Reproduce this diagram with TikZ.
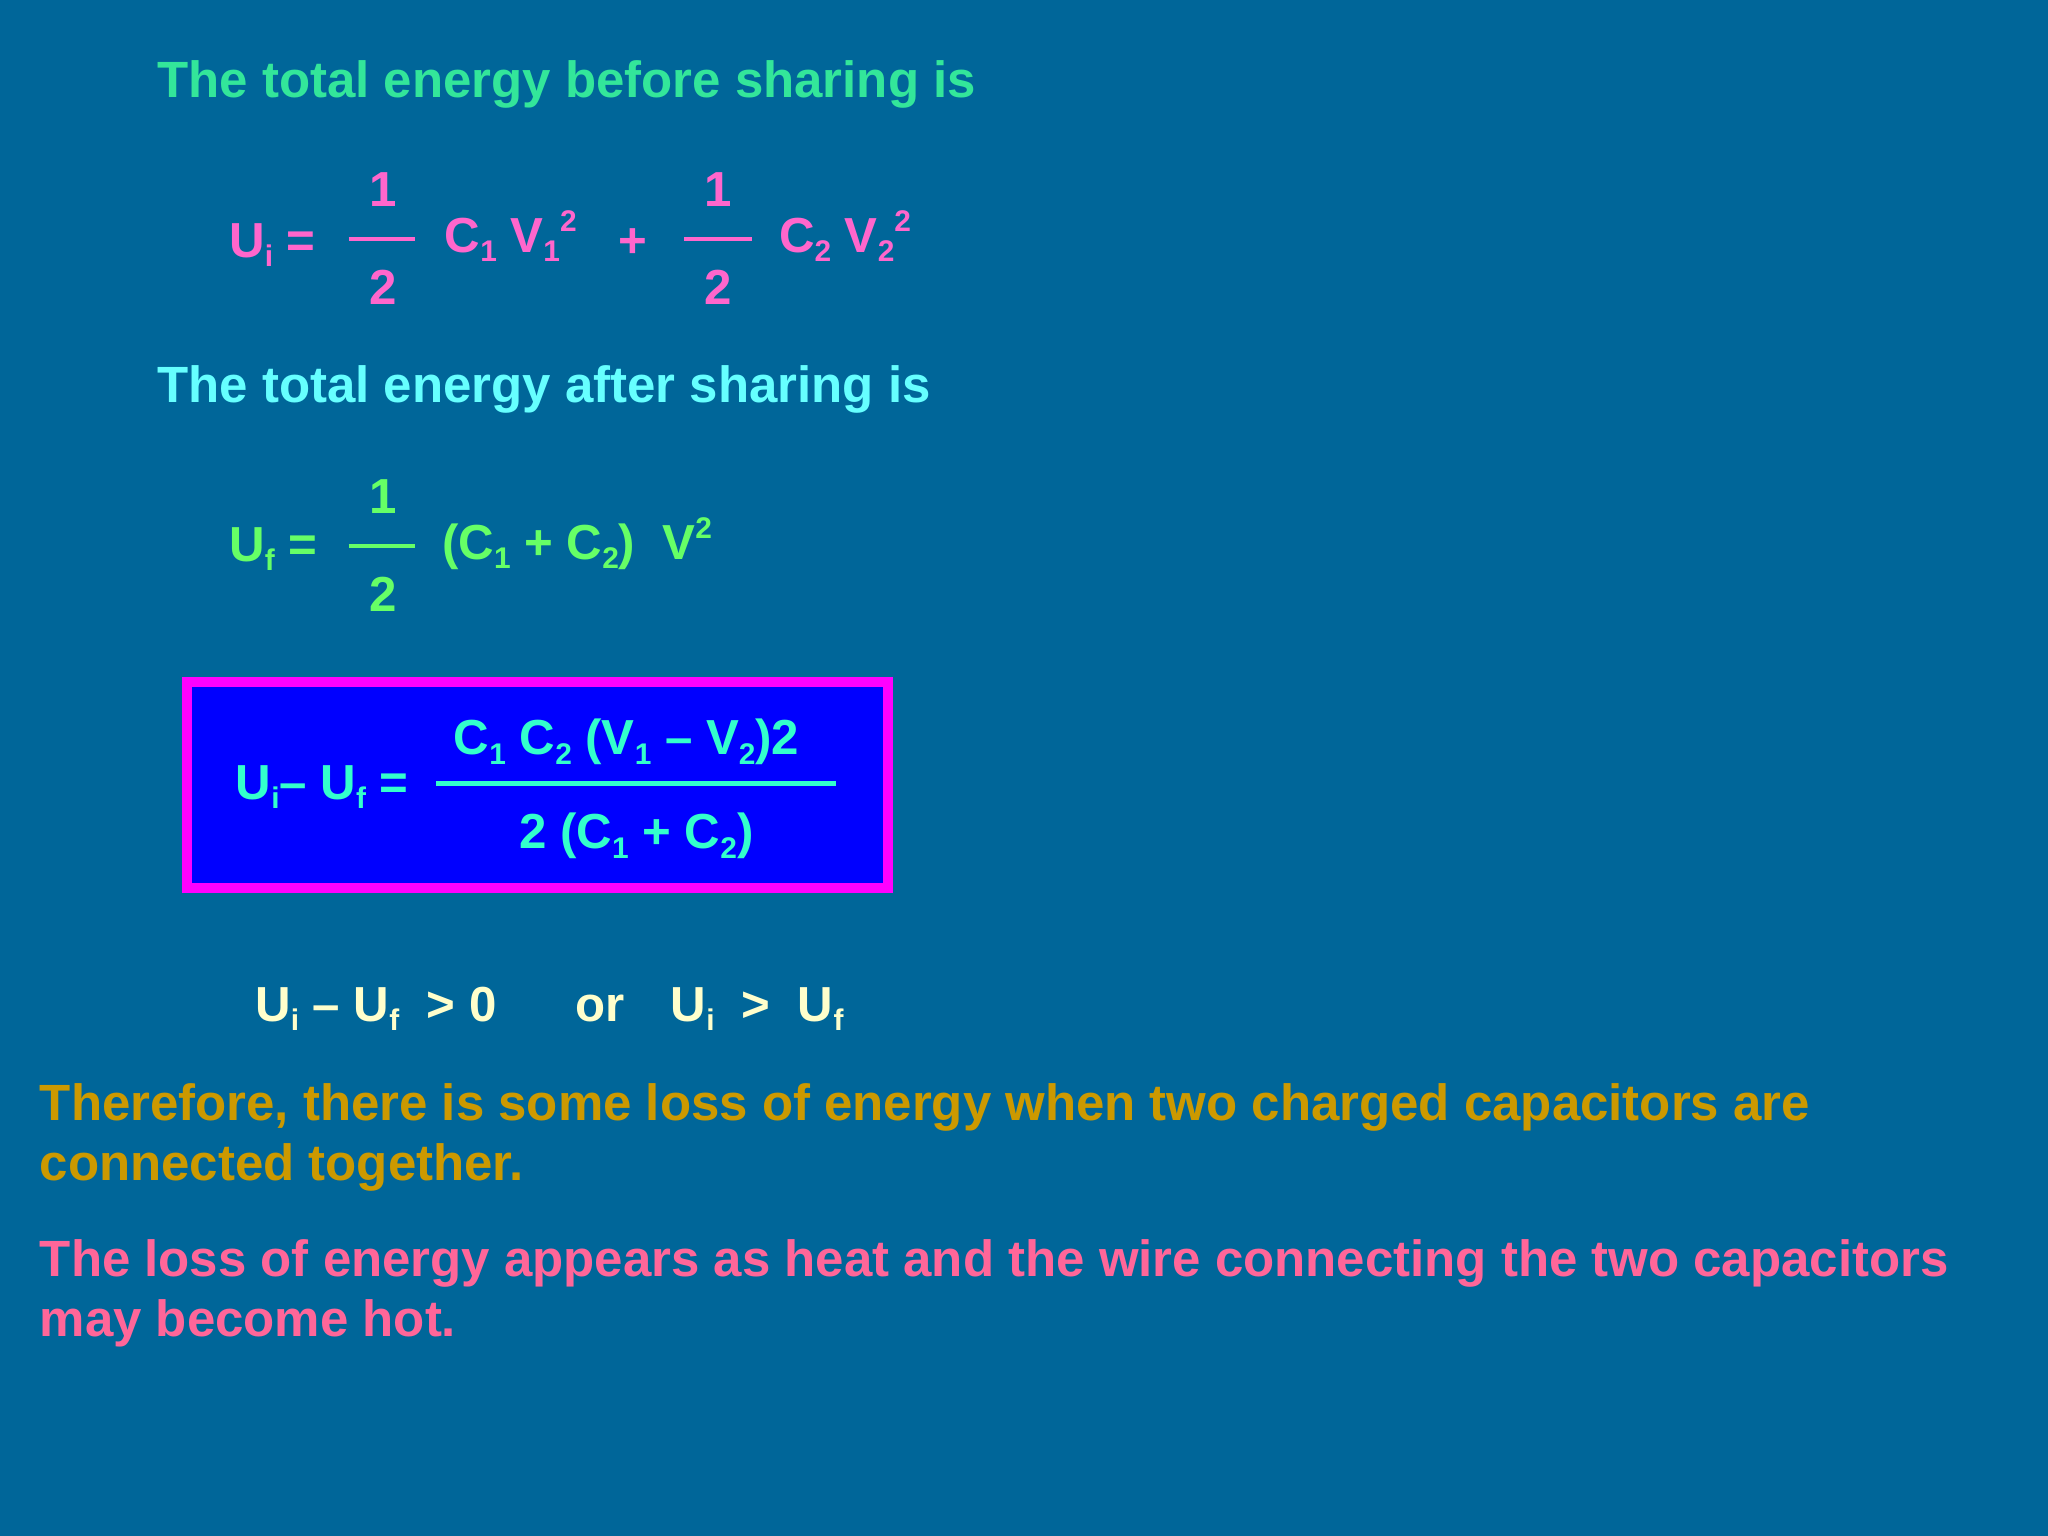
\documentclass[tikz,border=0pt]{standalone}
\usepackage{fontspec}
\setmainfont{Liberation Sans}
\definecolor{bg}{HTML}{006699}
\definecolor{cA}{HTML}{33E69A}
\definecolor{cB}{HTML}{FF66CC}
\definecolor{cC}{HTML}{66FFFF}
\definecolor{cD}{HTML}{66FF66}
\definecolor{cE}{HTML}{33FFCC}
\definecolor{cF}{HTML}{FFFFCC}
\definecolor{cG}{HTML}{CC9900}
\definecolor{cH}{HTML}{FF6699}
\newcommand{\sbx}[1]{\raisebox{-0.35ex}{\fontsize{8.5}{9}\selectfont #1}}
\newcommand{\spx}[1]{\raisebox{0.8ex}{\fontsize{8.5}{9}\selectfont #1}}
\begin{document}
\begin{tikzpicture}[x=0.01306cm,y=-0.01306cm,
  txt/.style={anchor=base west,inner sep=0pt,font=\fontsize{14}{16}\selectfont\bfseries},
  ptx/.style={anchor=base west,inner sep=0pt,font=\fontsize{14.5}{17}\selectfont\bfseries},
  fr/.style={line width=1.3pt}]
\fill[bg] (0,0) rectangle (1568,1176);
\node[ptx,text=cA] (t1) at (120,75) {The total energy before sharing is};
\node[txt,text=cB] (ui) at (175,197) {U\sbx{i} =};
\node[txt,text=cB] (n1) at (282,158) {1};
\node[txt,text=cB] (d1) at (282,233) {2};
\draw[fr,cB] (267,183) -- (318,183);
\node[txt,text=cB] (c1) at (340,193) {C\sbx{1} V\sbx{1}\spx{2}};
\node[txt,text=cB] (pl) at (473,197) {+};
\node[txt,text=cB] (n2) at (539,158) {1};
\node[txt,text=cB] (d2) at (539,233) {2};
\draw[fr,cB] (524,183) -- (576,183);
\node[txt,text=cB] (c2) at (596,193) {C\sbx{2} V\sbx{2}\spx{2}};
\node[ptx,text=cC] (t2) at (120,308) {The total energy after sharing is};
\node[txt,text=cD] (uf) at (175,430) {U\sbx{f} =};
\node[txt,text=cD] (n3) at (282,393) {1};
\node[txt,text=cD] (d3) at (282,468) {2};
\draw[fr,cD] (267,418) -- (318,418);
\node[txt,text=cD] (c3) at (338,428) {(C\sbx{1} + C\sbx{2})\ \ V\spx{2}};
\draw[line width=3pt,draw={rgb,255:red,255;green,0;blue,255},fill={rgb,255:red,0;green,0;blue,255}] (143,522) rectangle (680,680);
\node[txt,text=cE] (b1) at (180,612) {U\sbx{i}– U\sbx{f} =};
\node[txt,text=cE] (b2) at (347,578) {C\sbx{1} C\sbx{2} (V\sbx{1} – V\sbx{2})2};
\draw[fr,cE] (334,600) -- (640,600);
\node[txt,text=cE] (b3) at (397,650) {2 (C\sbx{1} + C\sbx{2})};
\node[txt,text=cF] (g1) at (195,782) {U\sbx{i} – U\sbx{f}\ \ > 0};
\node[txt,text=cF] (g2) at (440,782) {or};
\node[txt,text=cF] (g3) at (513,782) {U\sbx{i}\ \ >\ \ U\sbx{f}};
\node[ptx,text=cG] (p1) at (30,858) {Therefore, there is some loss of energy when two charged capacitors are};
\node[ptx,text=cG] (p2) at (30,904) {connected together.};
\node[ptx,text=cH] (p3) at (30,977) {The loss of energy appears as heat and the wire connecting the two capacitors};
\node[ptx,text=cH] (p4) at (30,1023) {may become hot.};
\end{tikzpicture}
\end{document}
